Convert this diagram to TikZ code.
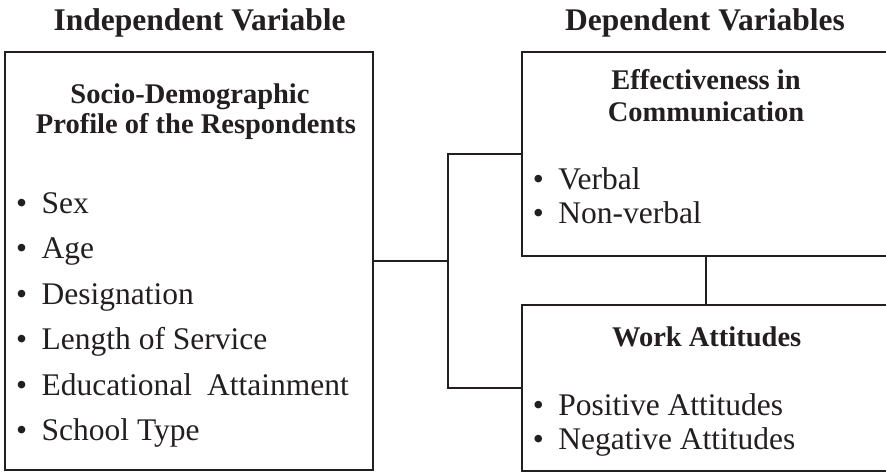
\documentclass[tikz,border=0pt]{standalone}
\usepackage{fontspec}
\setmainfont{Liberation Serif}
\begin{document}
\begin{tikzpicture}[x=1pt,y=-1pt,
  ink/.style={color={rgb,255:red,35;green,31;blue,32}},
  framebox/.style={draw, ink, line width=2pt, rectangle, inner sep=0pt, outer sep=0pt},
  link/.style={draw, ink, line width=2pt},
  heading/.style={ink, inner sep=0pt, outer sep=0pt, anchor=base, font=\fontsize{31.5}{34}\selectfont\bfseries},
  boxtitle/.style={ink, inner sep=0pt, outer sep=0pt, anchor=base, font=\fontsize{28.5}{31}\selectfont\bfseries},
  item/.style={ink, inner sep=0pt, outer sep=0pt, anchor=base west, font=\fontsize{31.5}{34}\selectfont},
]
\useasboundingbox (0,0) rectangle (886,473);
\clip (0,0) rectangle (886,473);
\newcommand{\bul}{\llap{•\hspace{14.5pt}}}

% column headings
\node[heading] (hind) at (199.7,31) {Independent Variable};
\node[heading] (hdep) at (705,31) {Dependent Variables};

% frames
\node[framebox, minimum width=368pt, minimum height=418pt] (indep) at (189,261) {};
\node[framebox, minimum width=380pt, minimum height=204pt] (effect) at (711.7,154) {};
\node[framebox, minimum width=380pt, minimum height=166pt] (work) at (711.7,388) {};

% independent variable
\node[boxtitle] (t1a) at (190,104) {Socio-Demographic};
\node[boxtitle] (t1b) at (196,134) {Profile of the Respondents};
\node[item] (i1) at (41.7,213.3) {\bul Sex};
\node[item] (i2) at (41.7,258.5) {\bul Age};
\node[item] (i3) at (41.7,304) {\bul Designation};
\node[item] (i4) at (41.7,349.3) {\bul Length of Service};
\node[item] (i5) at (41.7,395) {\bul Educational\hspace{15pt}Attainment};
\node[item] (i6) at (41.7,440) {\bul School Type};

% effectiveness in communication
\node[boxtitle] (t2a) at (706,90) {Effectiveness in};
\node[boxtitle] (t2b) at (706,121.7) {Communication};
\node[item] (e1) at (558.3,189.3) {\bul Verbal};
\node[item] (e2) at (558.3,224) {\bul Non-verbal};

% work attitudes
\node[boxtitle] (t3) at (706.7,346.7) {Work Attitudes};
\node[item] (w1) at (558.3,415) {\bul Positive Attitudes};
\node[item] (w2) at (558.3,449.3) {\bul Negative Attitudes};

% connectors
\coordinate (fork) at (447.5,261);
\coordinate (mid) at (706,280);
\draw[link] (indep.east) -- (fork);
\draw[link, line join=miter] (effect.west) -| (fork) |- (work.west);
\draw[link] (effect.south -| mid) -- (work.north -| mid);
\end{tikzpicture}
\end{document}
